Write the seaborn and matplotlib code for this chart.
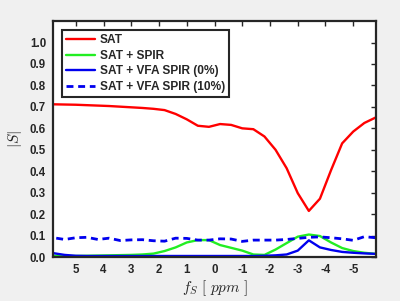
import matplotlib
matplotlib.use("Agg")
import matplotlib.pyplot as plt
import seaborn as sns
import pandas as pd

ppm = [5.8, 5.4, 5.0, 4.6, 4.2, 3.8, 3.4, 3.0, 2.6, 2.2, 1.8, 1.4, 1.0, 0.6, 0.2,
       -0.2, -0.6, -1.0, -1.4, -1.8, -2.2, -2.6, -3.0, -3.4, -3.8, -4.2, -4.6, -5.0, -5.4, -5.8]

sat = [0.712, 0.711, 0.710, 0.708, 0.706, 0.704, 0.701, 0.698, 0.695, 0.691, 0.685, 0.667, 0.642, 0.612, 0.607,
       0.620, 0.616, 0.600, 0.596, 0.562, 0.500, 0.414, 0.298, 0.215, 0.272, 0.405, 0.530, 0.585, 0.625, 0.650]
sat_spir = [0.006, 0.005, 0.005, 0.006, 0.007, 0.008, 0.009, 0.010, 0.012, 0.016, 0.028, 0.045, 0.068, 0.079, 0.079,
            0.056, 0.043, 0.030, 0.012, 0.010, 0.035, 0.065, 0.095, 0.105, 0.098, 0.068, 0.042, 0.028, 0.020, 0.015]
vfa0 = [0.018, 0.010, 0.006, 0.005, 0.005, 0.005, 0.005, 0.005, 0.005, 0.005, 0.005, 0.005, 0.005, 0.005, 0.005,
        0.005, 0.005, 0.005, 0.005, 0.006, 0.008, 0.012, 0.030, 0.078, 0.045, 0.033, 0.024, 0.020, 0.017, 0.015]
vfa10 = [0.090, 0.082, 0.090, 0.092, 0.082, 0.088, 0.077, 0.080, 0.081, 0.076, 0.074, 0.088, 0.087, 0.079, 0.079,
         0.085, 0.084, 0.073, 0.079, 0.079, 0.079, 0.082, 0.087, 0.092, 0.094, 0.090, 0.085, 0.078, 0.095, 0.090]

labels = ["SAT", "SAT + SPIR", "SAT + VFA SPIR (0%)", "SAT + VFA SPIR (10%)"]
xticks = [5, 4, 3, 2, 1, 0, -1, -2, -3, -4, -5]
yticks = [0.0, 0.1, 0.2, 0.3, 0.4, 0.5, 0.6, 0.7, 0.8, 0.9, 1.0]

sns.set_style("white")
plt.rcParams['font.family'] = ['Liberation Sans', 'DejaVu Sans']
plt.rcParams['mathtext.fontset'] = 'cm'

fig = plt.figure(figsize=(4.0, 3.01), dpi=100, facecolor='#f0f0f0')
ax = fig.add_axes([0.1325, 0.146, 0.8075, 0.784])
ax.set_facecolor('white')

series = [sat, sat_spir, vfa0, vfa10]
colors = ['#ff0000', '#22ee22', '#0000ee', '#0000ee']
for vals, lab, col in zip(series, labels, colors):
    df = pd.DataFrame({"ppm": ppm, "S": vals})
    if lab.endswith("(10%)"):
        sns.lineplot(data=df, x="ppm", y="S", ax=ax, color=col, lw=2.0, label=lab,
                     linestyle=(0, (2.5, 1.7)))
    else:
        sns.lineplot(data=df, x="ppm", y="S", ax=ax, color=col, lw=1.7, label=lab)

ax.set_xlim(5.82, -5.82)
ax.set_ylim(0, 1.1)
ax.set_xticks(xticks)
ax.set_xticklabels([str(t) for t in xticks])
ax.set_yticks(yticks)
ax.set_yticklabels([f"{t:.1f}" for t in yticks])
ax.tick_params(direction='in', length=3.5, width=1.0, colors='#262626', labelsize=8.3,
               top=True, right=True, labeltop=False, labelright=False, pad=5)
for lab in ax.get_xticklabels() + ax.get_yticklabels():
    lab.set_fontweight('bold')
for sp in ax.spines.values():
    sp.set_visible(True)
    sp.set_linewidth(1.6)
    sp.set_color('#262626')

ax.set_xlabel(r"$f_S\ [\ ppm\ ]$", fontsize=11, color='#262626', labelpad=2)
ax.set_ylabel(r"$|S|$", fontsize=11, color='#262626', labelpad=4)

leg = ax.legend(loc='upper left', bbox_to_anchor=(0.028, 0.962), frameon=True, fancybox=False,
                prop={'weight': 'bold', 'size': 8.6}, handlelength=2.4, handletextpad=0.4,
                labelspacing=0.3, borderpad=0.35, borderaxespad=0)
leg.get_frame().set_edgecolor('#262626')
leg.get_frame().set_linewidth(1.5)
leg.get_frame().set_alpha(1)
for t in leg.get_texts():
    t.set_color('#262626')

fig.savefig("out.png", dpi=100, facecolor=fig.get_facecolor())
